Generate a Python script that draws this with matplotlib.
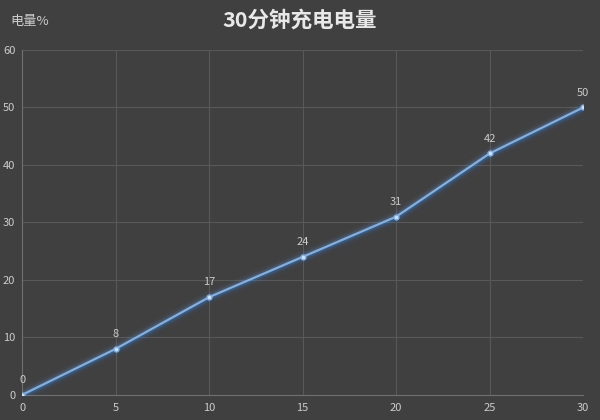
import numpy as np
import matplotlib.pyplot as plt
import matplotlib.patheffects as pe

plt.rcParams['font.family'] = ['Noto Sans CJK SC', 'DejaVu Sans']

# charge level (%) after minutes of charging
minutes = [0, 5, 10, 15, 20, 25, 30]
charge = [0, 8, 17, 24, 31, 42, 50]
x_ticks = [0, 5, 10, 15, 20, 25, 30]
y_ticks = [0, 10, 20, 30, 40, 50, 60]

bg = '#404040'
txt = '#cccccc'
grid = '#585858'
line_col = '#7fb0e6'

fig = plt.figure(figsize=(6, 4.2), dpi=100, facecolor=bg)
ax = fig.add_axes([0.037, 0.06, 0.935, 0.821], facecolor=bg)

# glow under the line
for lw, a in [(9, 0.06), (6, 0.10), (4, 0.18)]:
    ax.plot(minutes, charge, color='#4a90e2', linewidth=lw, alpha=a,
            solid_capstyle='round', zorder=2)
ax.plot(minutes, charge, color=line_col, linewidth=1.6, marker='o',
        markersize=3.5, markerfacecolor='#cfe3fa', markeredgecolor=line_col,
        zorder=3)

for x, y in zip(minutes, charge):
    ax.annotate(str(y), (x, y), xytext=(0, 7), textcoords='offset points',
                ha='center', va='bottom', color=txt, fontsize=8)

ax.set_xlim(0, 30)
ax.set_ylim(0, 60)
ax.set_xticks(x_ticks)
ax.set_yticks(y_ticks)
ax.grid(True, color=grid, linewidth=0.8)
ax.set_axisbelow(True)
for s in ['top', 'right']:
    ax.spines[s].set_visible(False)
for s in ['left', 'bottom']:
    ax.spines[s].set_color('#707070')
ax.tick_params(colors=txt, labelsize=8, length=0, pad=6)
ax.tick_params(axis='y', pad=5)

fig.text(0.5, 0.952, '30分钟充电电量', ha='center', va='center',
         color='#e8e8e8', fontsize=15.5, fontweight='bold')
fig.text(0.017, 0.948, '电量%', ha='left', va='center', color=txt,
         fontsize=9.5)

fig.savefig('out.png', dpi=100, facecolor=bg)
